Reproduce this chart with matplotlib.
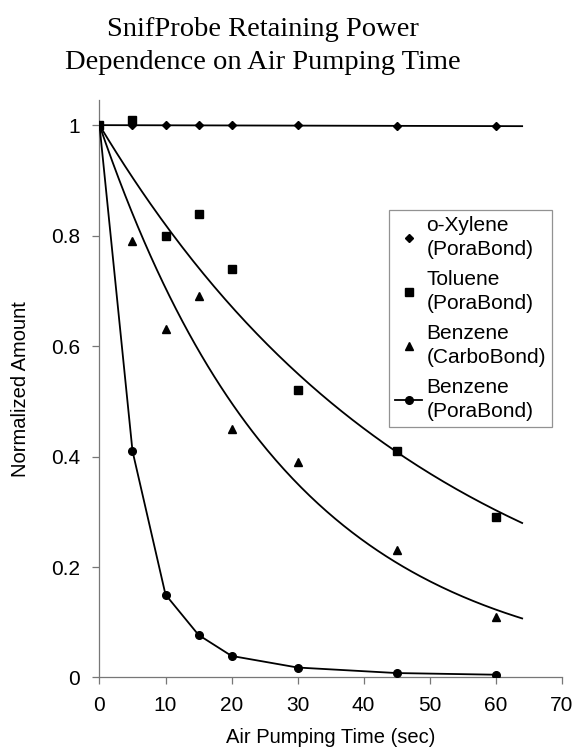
import numpy as np
import matplotlib
matplotlib.use("Agg")
import matplotlib.pyplot as plt

# pumping times (sec)
time_s = [0, 5, 10, 15, 20, 30, 45, 60]

# normalized amounts
xylene_pora = [1.0, 1.0, 1.0, 1.0, 1.0, 1.0, 0.998, 0.998]
toluene_pora = [1.0, 1.01, 0.80, 0.84, 0.74, 0.52, 0.41, 0.29]
benzene_carbo = [1.0, 0.79, 0.63, 0.69, 0.45, 0.39, 0.23, 0.11]
benzene_pora = [1.0, 0.41, 0.15, 0.077, 0.039, 0.018, 0.008, 0.005]

# trendlines run a bit past the last point
trend_end = 64

x_ticks = [0, 10, 20, 30, 40, 50, 60, 70]
y_ticks = [0, 0.2, 0.4, 0.6, 0.8, 1.0]
y_tick_labels = ["0", "0.2", "0.4", "0.6", "0.8", "1"]


def exp_trend(x, y):
    # exponential fit y = exp(b*x), intercept forced to 1
    x = np.asarray(x, float)
    ly = np.log(np.asarray(y, float))
    b = np.sum(x * ly) / np.sum(x * x)
    xs = np.linspace(0, trend_end, 200)
    return xs, np.exp(b * xs)


plt.rcParams['font.family'] = ['Liberation Sans', 'DejaVu Sans']

fig = plt.figure(figsize=(5.75, 7.54), dpi=100)
ax = fig.add_axes([0.173, 0.1015, 0.804, 0.7655])

# trendlines
for ys in (xylene_pora, toluene_pora, benzene_carbo):
    tx, ty = exp_trend(time_s, ys)
    ax.plot(tx, ty, color='black', lw=1.3, zorder=2)

ax.plot(time_s, xylene_pora, 'D', color='black', ms=4.5, ls='none',
        label='o-Xylene\n(PoraBond)', zorder=3)
ax.plot(time_s, toluene_pora, 's', color='black', ms=5.5, ls='none',
        label='Toluene\n(PoraBond)', zorder=3)
ax.plot(time_s, benzene_carbo, '^', color='black', ms=6, ls='none',
        label='Benzene\n(CarboBond)', zorder=3)
ax.plot(time_s, benzene_pora, 'o-', color='black', ms=5.5, lw=1.3,
        label='Benzene\n(PoraBond)', zorder=3)

ax.set_xlim(0, 70)
ax.set_ylim(0, 1.045)
ax.set_xticks(x_ticks)
ax.set_yticks(y_ticks)
ax.set_yticklabels(y_tick_labels)

for side in ('top', 'right'):
    ax.spines[side].set_visible(False)
for side in ('left', 'bottom'):
    ax.spines[side].set_color('#777777')
    ax.spines[side].set_linewidth(0.9)
ax.tick_params(direction='out', length=5, width=0.9, color='#777777',
               labelsize=15)
ax.tick_params(axis='y', pad=9)
ax.tick_params(axis='x', pad=8)

ax.set_xlabel('Air Pumping Time (sec)', fontsize=14.5, labelpad=10)
ax.set_ylabel('Normalized Amount', fontsize=14.5, labelpad=15)

leg = ax.legend(loc='upper left', bbox_to_anchor=(0.626, 0.81), fontsize=15,
                frameon=True, fancybox=False, borderpad=0.3, labelspacing=0.55,
                handlelength=1.3, handletextpad=0.2, borderaxespad=0)
leg.get_frame().set_edgecolor('#777777')
leg.get_frame().set_linewidth(0.9)
for t in leg.get_texts():
    t.set_linespacing(1.3)

fig.text(0.457, 0.977, 'SnifProbe Retaining Power\nDependence on Air Pumping Time',
         ha='center', va='top', fontsize=20.5, family=['Liberation Serif', 'DejaVu Serif'],
         linespacing=1.42)

fig.savefig('out.png', dpi=100)
